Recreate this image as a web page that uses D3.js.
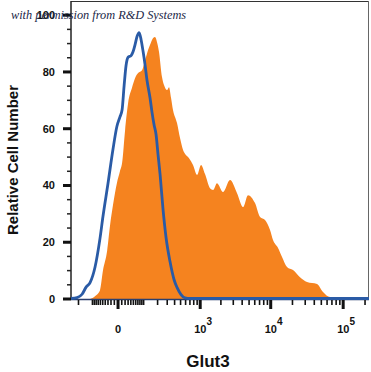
<!doctype html>
<html lang="en">
<head>
<meta charset="utf-8">
<script src="https://cdn.jsdelivr.net/npm/d3@7"></script>
<title>Glut3 histogram</title>
<style>
  body { margin: 0; background: #fff; }
  svg text { font-family: "Liberation Sans", Arial, sans-serif; font-weight: bold; fill: #111; }
  .mark { font-family: "Liberation Serif", serif; font-style: italic; font-weight: normal; fill: #1b2748; }
</style>
</head>
<body>
<div id="chart"></div>
<script>
    // isotype control (blue outline)
    var blueX = [-275, -213, -170, -140, -114, -86, -62, -49, -30, -14, -3, 5, 11, 17, 23, 30, 41, 49, 57, 66,
                 76, 86, 97, 108, 120, 140, 155, 170, 187, 204, 223, 253, 286, 335, 391, 438, 508, 588, 702, 226700];
    var blueY = [0, 0.3, 1.5, 4, 5.6, 11, 21, 28.9, 40.5, 52.5, 60.6, 64, 66.5, 75, 82, 85, 85.6, 87, 89.4, 92.3,
                 93.7, 91.2, 87, 82.4, 77, 70.8, 65.5, 61.3, 57.7, 50.7, 43.7, 31.3, 21.5, 13, 6.7, 3.9, 1.4, 0.2, 0, 0];

    // Glut3 stained (orange fill)
    var orangeX = [-114, -86, -62, -49, -33, -23, -14, -3, 5, 11, 20, 30, 45, 57, 71, 91, 108, 127, 148, 162,
                   178, 195, 213, 242, 263, 298, 322, 349, 377, 438, 490, 547, 609, 678, 780, 897, 1029, 1178, 1394, 1542,
                   1760, 2146, 2698, 3388, 4114, 4833, 6052, 7103, 8336, 9784, 10760, 12624, 14344, 16816, 20352, 25416, 31752, 43616, 52744, 65880,
                   90424, 124176];
    var orangeY = [0, 1, 3, 10, 17, 26, 33, 40.8, 45, 48, 59.5, 69, 74.6, 77.8, 79.6, 80.6, 84, 87.7, 90.5, 91.9,
                   92.3, 90.5, 87, 78.2, 75.4, 73.6, 74.6, 70.8, 66.5, 62, 56.7, 52.5, 50.7, 49.6, 47.2, 43.7, 47.2, 44, 39, 38.4,
                   40.8, 37.7, 41.9, 37.3, 32.4, 36.6, 33.8, 28.9, 27.8, 24.3, 20.8, 18, 14.8, 11.3, 10.2, 7.7, 6, 5.3, 2.5, 0.7,
                   0.5, 0];

    var yTicks = [0, 20, 40, 60, 80, 100];
    var xMajor = [0, 1e3, 1e4, 1e5];
    var xExp   = ["", "3", "4", "5"];

    var W = 371, H = 372;
    var pl = 71, pr = 369, pt = 1, pb = 299;

    var svg = d3.select("#chart").append("svg")
        .attr("width", W)
        .attr("height", H);

    var x = d3.scaleSymlog().constant(80)
        .domain([-275, 226700])
        .range([pl, pr]);
    var y = d3.scaleLinear()
        .domain([0, 105])
        .range([pb, pt]);

    // Orange area
    var orange = orangeX.map(function (d, i) { return [d, orangeY[i]]; });
    svg.append("path")
        .datum(orange)
        .attr("fill", "#f5831f")
        .attr("d", d3.area()
            .curve(d3.curveMonotoneX)
            .x(function (d) { return x(d[0]); })
            .y0(y(0))
            .y1(function (d) { return y(d[1]); }));

    // Frame
    svg.append("line").attr("x1", pl).attr("x2", pr).attr("y1", pt + 0.5).attr("y2", pt + 0.5)
        .attr("stroke", "#333").attr("stroke-width", 1.2);
    svg.append("line").attr("x1", pr - 0.5).attr("x2", pr - 0.5).attr("y1", pt).attr("y2", pb)
        .attr("stroke", "#666").attr("stroke-width", 1);

    // Y axis with thick majors and minors every 5
    var yMinor = d3.range(0, 105, 5).filter(function (v) { return v % 20 !== 0; });
    var yAxis = svg.append("g");
    yAxis.append("line").attr("x1", pl).attr("x2", pl).attr("y1", pt).attr("y2", pb + 1)
        .attr("stroke", "#222").attr("stroke-width", 1.5);
    yAxis.selectAll(".ymin").data(yMinor).enter().append("line")
        .attr("x1", pl - 4).attr("x2", pl)
        .attr("y1", function (d) { return y(d); }).attr("y2", function (d) { return y(d); })
        .attr("stroke", "#222").attr("stroke-width", 1.5);
    yAxis.selectAll(".ymaj").data(yTicks).enter().append("line")
        .attr("x1", pl - 8).attr("x2", pl)
        .attr("y1", function (d) { return y(d); }).attr("y2", function (d) { return y(d); })
        .attr("stroke", "#111").attr("stroke-width", 3);
    yAxis.selectAll(".ylab").data(yTicks).enter().append("text")
        .attr("x", 55)
        .attr("y", function (d) { return y(d); })
        .attr("dy", "0.35em")
        .attr("text-anchor", "end")
        .style("font-size", "11px")
        .text(function (d) { return d; });

    // X axis (logicle-like) ticks
    var xMinor = [];
    [-10, -100].forEach(function (b) { for (var k = 1; k <= 9; k++) xMinor.push(b * k); });
    [10, 100, 1e3, 1e4, 1e5].forEach(function (b) { for (var k = 1; k <= 9; k++) xMinor.push(b * k); });
    xMinor = xMinor.filter(function (v) { return v > -275 && v < 226700 && xMajor.indexOf(v) < 0; });

    svg.append("line").attr("x1", pl).attr("x2", pr).attr("y1", pb + 0.5).attr("y2", pb + 0.5)
        .attr("stroke", "#2a3f6e").attr("stroke-width", 1.5);
    svg.selectAll(".xmin").data(xMinor).enter().append("line")
        .attr("x1", function (d) { return x(d); }).attr("x2", function (d) { return x(d); })
        .attr("y1", pb + 1).attr("y2", pb + 6)
        .attr("stroke", "#111").attr("stroke-width", 1.6);
    svg.selectAll(".xmaj").data(xMajor).enter().append("line")
        .attr("x1", function (d) { return x(d); }).attr("x2", function (d) { return x(d); })
        .attr("y1", pb + 1).attr("y2", pb + 10)
        .attr("stroke", "#111").attr("stroke-width", 3);

    var xl = svg.selectAll(".xlab").data(xMajor).enter().append("text")
        .attr("x", function (d, i) { return i === 0 ? x(d) - 3 : x(d) - 6; })
        .attr("y", 333)
        .style("font-size", "11px");
    xl.append("tspan").text(function (d) { return d === 0 ? "0" : "10"; });
    xl.append("tspan").attr("dy", -8).style("font-size", "10px")
        .text(function (d, i) { return xExp[i]; });

    // Isotype line
    var blue = blueX.map(function (d, i) { return [d, blueY[i]]; });
    svg.append("path")
        .datum(blue)
        .attr("fill", "none")
        .attr("stroke", "#2a5ba6")
        .attr("stroke-width", 2.8)
        .attr("stroke-linejoin", "round")
        .attr("d", d3.line()
            .curve(d3.curveMonotoneX)
            .x(function (d) { return x(d[0]); })
            .y(function (d) { return y(d[1]) - 0.5; }));

    // Axis titles
    svg.append("text")
        .attr("x", 208).attr("y", 367)
        .attr("text-anchor", "middle")
        .style("font-size", "17px")
        .text("Glut3");
    svg.append("text")
        .attr("transform", "translate(18,160) rotate(-90)")
        .attr("text-anchor", "middle")
        .style("font-size", "15px")
        .text("Relative Cell Number");

    // Watermark
    svg.append("text")
        .attr("class", "mark")
        .attr("x", 11).attr("y", 19)
        .style("font-size", "12.3px")
        .text("with permission from R&D Systems");
</script>
</body>
</html>
